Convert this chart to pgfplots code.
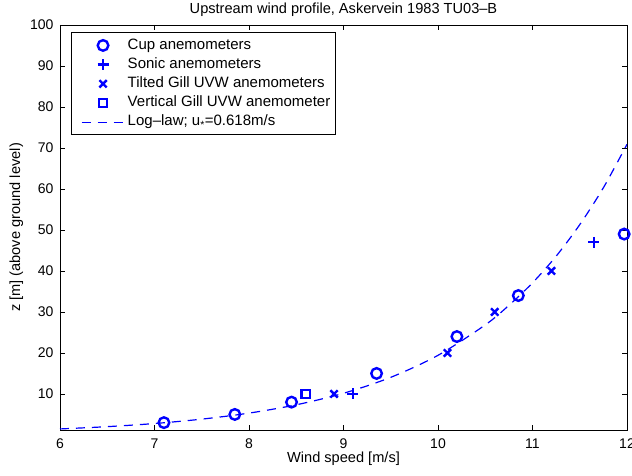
\documentclass[border=0pt]{standalone}
\usepackage{fontspec}
\setmainfont{Liberation Sans}
\usepackage{pgfplots}
\pgfplotsset{compat=1.18}
\pgfplotsset{
  mleg/.style={legend image code/.code={\path (0pt,0pt) (49pt,0pt); \draw[##1] plot coordinates {(27.5pt,0pt)};}},
  lleg/.style={legend image code/.code={\path (0pt,0pt) (49pt,0pt); \draw[##1] (6pt,0pt) -- (49pt,0pt);}},
}
\newcommand{\fs}{\fontsize{14.6}{17}\selectfont}
\newcommand{\fl}{\fontsize{15}{17}\selectfont}
\newcommand{\ft}{\fontsize{14}{16}\selectfont}
\begin{document}
\fs
\begin{tikzpicture}
\begin{axis}[
  width=567pt, height=405pt, scale only axis,
  xmin=6, xmax=12, ymin=1.2, ymax=100,
  xtick={6,7,8,9,10,11,12},
  ytick={10,20,30,40,50,60,70,80,90,100},
  tick align=inside, major tick length=5pt,
  tick style={black, line width=0.5pt},
  axis line style={line width=0.7pt},
  /pgf/number format/assume math mode=true,
  tick label style={font=\ft},
  xticklabel style={yshift=-3.5pt},
  yticklabel style={xshift=-1.5pt},
  label style={font=\fs},
  title style={font=\fs, yshift=-3pt},
  title={Upstream wind profile, Askervein 1983 TU03\textendash B},
  xlabel={Wind speed [m/s]},
  ylabel={z [m] (above ground level)},
  xlabel style={yshift=7pt},
  ylabel style={yshift=-3pt},
  legend style={at={(0.0194,0.9815)}, anchor=north west, draw=black, line width=0.7pt,
    font=\fl, row sep=0pt, inner sep=3pt,
    nodes={inner xsep=2pt, inner ysep=2pt, text height=11.2pt, text depth=4pt}},
  legend cell align=left,
]
\addplot[only marks, blue, mark=o, mark size=5.3pt, line width=2.4pt, mleg] coordinates {
 (7.1,3) (7.85,5) (8.45,8) (9.35,15) (10.2,24) (10.85,34) (11.97,49)};
\addlegendentry{Cup anemometers}
\addplot[only marks, blue, mark=+, mark size=5.5pt, line width=2.4pt, mleg] coordinates {
 (9.1,10) (11.65,47)};
\addlegendentry{Sonic anemometers}
\addplot[only marks, blue, mark=x, mark size=5.2pt, line width=2.4pt, mleg] coordinates {
 (8.9,10) (10.1,20) (10.6,30) (11.2,40)};
\addlegendentry{Tilted Gill UVW anemometers}
\addplot[only marks, blue, mark=square, mark size=4.2pt, line width=2.4pt, mleg] coordinates {
 (8.6,10)};
\addlegendentry{Vertical Gill UVW anemometer}
\addplot[blue, dash pattern=on 9pt off 7pt, line width=1.2pt, smooth, mark=none, lleg] coordinates {
 (6,1.46) (6.5,2.02) (7,2.78) (7.5,3.85) (8,5.32) (8.5,7.35) (9,10.16) (9.5,14.05)
 (10,19.42) (10.5,26.84) (10.75,31.6) (11,37.10) (11.25,43.6) (11.5,51.3) (11.75,60.3) (12,70.9)};
\addlegendentry{Log\textendash law; u\textsubscript{*}=0.618m/s}
\end{axis}
\pgfresetboundingbox
\useasboundingbox ([shift={(-60pt,-45pt)}]current axis.south west) rectangle ([shift={(5pt,25pt)}]current axis.north east);
\end{tikzpicture}
\end{document}
